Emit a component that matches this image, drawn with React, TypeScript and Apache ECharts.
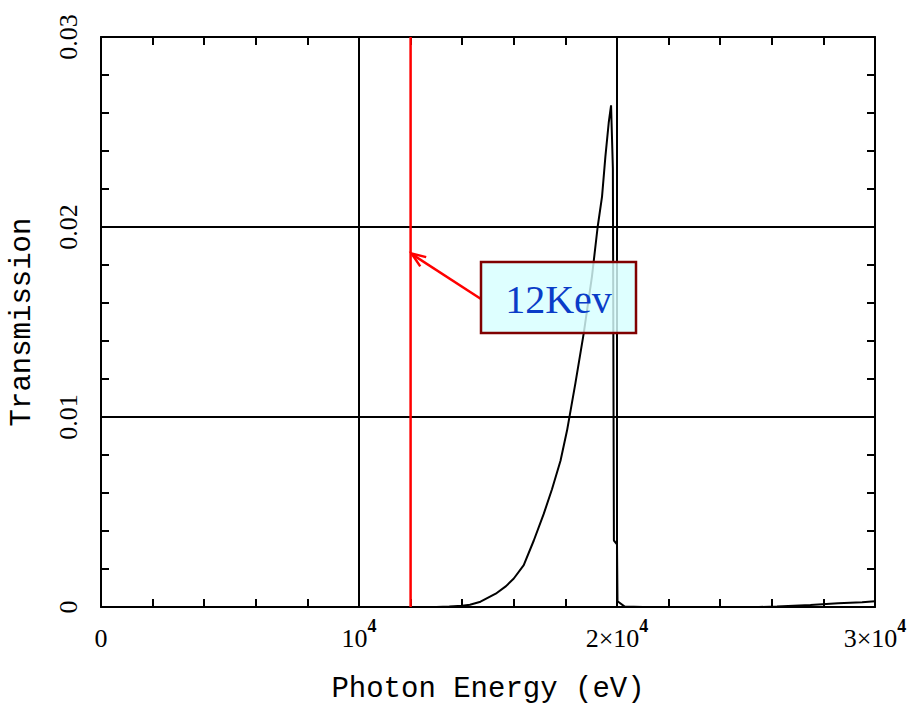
import React, { useEffect, useRef } from "react";
import * as echarts from "echarts";

const energy = [13000, 13500, 14000, 14300, 14710, 15300, 15700, 16000, 16385, 16775, 17160, 17480, 17810, 18065, 18390, 18710, 19030, 19250, 19420, 19550, 19680, 19770, 19840, 19880, 20000, 20020, 20300, 21000, 25500, 26200, 27500, 28570, 29500, 30000];
const transmission = [0, 0.00002, 0.00006, 0.00012, 0.00028, 0.0007, 0.0011, 0.0015, 0.0022, 0.0035, 0.0049, 0.0062, 0.0077, 0.0093, 0.0118, 0.0144, 0.0174, 0.02, 0.0216, 0.0237, 0.0255, 0.0264, 0.0231, 0.0035, 0.0033, 0.0003, 0.00002, 0, 0, 0.00003, 0.0001, 0.0002, 0.00025, 0.0003];
const markerEnergy = 12000;
const arrowTipValue = 0.0186;
const annotationText = "12Kev";
const xTickLabels: Record<number, string> = { 0: "{b|0}", 10000: "{b|10}{sup|4}", 20000: "{b|2×10}{sup|4}", 30000: "{b|3×10}{sup|4}" };
const yTickLabels: Record<string, string> = { "0": "0", "0.01": "0.01", "0.02": "0.02", "0.03": "0.03" };

const LABEL_FONT = "Liberation Serif";
const TITLE_FONT = "Liberation Mono";

export default function App() {
  const ref = useRef<HTMLDivElement>(null);
  useEffect(() => {
    document.body.style.margin = "0";
    const chart = echarts.init(ref.current!, undefined, { renderer: "svg" });
    const axisLine = { show: true, onZero: false, lineStyle: { color: "#000", width: 2 } };
    const tick = { show: true, inside: true, length: 8, lineStyle: { color: "#000", width: 2 } };
    const minor = { show: true, splitNumber: 5, length: 8, lineStyle: { color: "#000", width: 2 } };
    const split = { show: true, lineStyle: { color: "#000", width: 2 } };
    chart.setOption({
      animation: false,
      backgroundColor: "#fff",
      grid: { left: 101, top: 37, right: 48, bottom: 108 },
      xAxis: [
        {
          type: "value", min: 0, max: 30000, interval: 10000, position: "bottom",
          axisLine, axisTick: tick, minorTick: minor, splitLine: split,
          name: "Photon Energy (eV)", nameLocation: "middle", nameGap: 68,
          nameTextStyle: { fontFamily: TITLE_FONT, fontSize: 29, color: "#000" },
          axisLabel: {
            margin: 10, color: "#000",
            formatter: (v: number) => xTickLabels[v] ?? "",
            rich: {
              b: { fontFamily: LABEL_FONT, fontSize: 26, lineHeight: 34, verticalAlign: "bottom", color: "#000" },
              sup: { fontFamily: LABEL_FONT, fontSize: 18, lineHeight: 18, fontWeight: "bold", verticalAlign: "top", color: "#000" },
            },
          },
        },
        {
          type: "value", min: 0, max: 30000, interval: 10000, position: "top",
          axisLine, axisTick: tick, minorTick: minor, splitLine: { show: false }, axisLabel: { show: false },
        },
      ],
      yAxis: [
        {
          type: "value", min: 0, max: 0.03, interval: 0.01, position: "left",
          axisLine, axisTick: tick, minorTick: minor, splitLine: split,
          name: "Transmission", nameLocation: "middle", nameGap: 64, nameRotate: 90,
          nameTextStyle: { fontFamily: TITLE_FONT, fontSize: 29, color: "#000" },
          axisLabel: {
            rotate: 90, margin: 20, color: "#000", fontFamily: LABEL_FONT, fontSize: 26,
            formatter: (v: number) => yTickLabels[String(+v.toFixed(3))] ?? "",
          },
        },
        {
          type: "value", min: 0, max: 0.03, interval: 0.01, position: "right",
          axisLine, axisTick: tick, minorTick: minor, splitLine: { show: false }, axisLabel: { show: false },
        },
      ],
      series: [
        {
          type: "line", xAxisIndex: 0, yAxisIndex: 0, showSymbol: false, symbol: "none",
          lineStyle: { color: "#000", width: 2 },
          data: energy.map((e, i) => [e, transmission[i]]),
          z: 3,
        },
        {
          type: "line", xAxisIndex: 0, yAxisIndex: 0, showSymbol: false, symbol: "none",
          lineStyle: { color: "#ff0000", width: 2.5 },
          data: [[markerEnergy, 0], [markerEnergy, 0.03]],
          z: 4,
        },
        {
          type: "line", xAxisIndex: 1, yAxisIndex: 1, showSymbol: false, symbol: "none",
          data: [], silent: true,
        },
      ],
    });
    const tip = chart.convertToPixel({ xAxisIndex: 0, yAxisIndex: 0 }, [markerEnergy, arrowTipValue]) as number[];
    const bx = 481, by = 262, bw = 155, bh = 71;
    const sx = bx, sy = by + 37;
    const ang = Math.atan2(sy - tip[1], sx - tip[0]);
    const hl = 16, ha = 0.35;
    const p1 = [tip[0] + hl * Math.cos(ang + ha), tip[1] + hl * Math.sin(ang + ha)];
    const p2 = [tip[0] + hl * Math.cos(ang - ha), tip[1] + hl * Math.sin(ang - ha)];
    chart.setOption({
      graphic: [
        { type: "line", z: 100, shape: { x1: sx, y1: sy, x2: tip[0] + 2, y2: tip[1] + 1 }, style: { stroke: "#ff0000", lineWidth: 2.5 } },
        { type: "polyline", z: 100, shape: { points: [p1, [tip[0] + 1, tip[1]], p2] }, style: { stroke: "#ff0000", lineWidth: 2.5, fill: null } },
        { type: "rect", z: 100, shape: { x: bx, y: by, width: bw, height: bh }, style: { fill: "rgba(215,255,255,0.82)", stroke: "#800000", lineWidth: 2.5 } },
        { type: "text", z: 101, x: bx + bw / 2, y: by + bh / 2 + 2, style: { text: annotationText, fill: "#0a3cc8", font: `40px "${LABEL_FONT}"`, align: "center", verticalAlign: "middle" } },
      ],
    });
    return () => chart.dispose();
  }, []);
  return <div ref={ref} style={{ position: "fixed", left: 0, top: 0, width: 923, height: 715 }} />;
}
